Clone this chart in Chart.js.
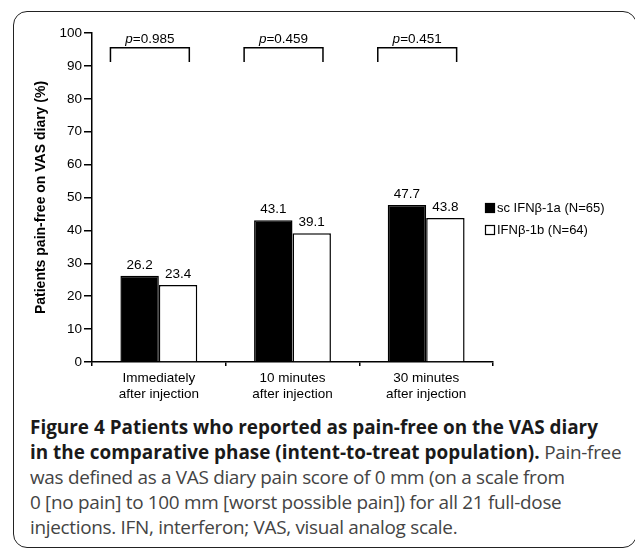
<!DOCTYPE html>
<html>
<head>
<meta charset="utf-8">
<script src="https://cdn.jsdelivr.net/npm/chart.js@4/dist/chart.umd.min.js"></script>
<style>
  body { margin: 0; background: #fff; width: 635px; height: 551px; overflow: hidden; position: relative; }
  #frame { position: absolute; left: 13px; top: 11px; width: 622px; height: 535px; border: 1.5px solid #222; border-radius: 14px; }
  #chart { position: absolute; left: 0; top: 0; }
  #caption { position: absolute; left: 30px; top: 415px; font-family: "Open Sans", "Liberation Sans", sans-serif; font-size: 18px; line-height: 25px; color: #444; letter-spacing: -0.3px; white-space: nowrap; }
  #caption b { color: #1a1a1a; letter-spacing: 0; }
  #caption span { display: inline-block; }
</style>
</head>
<body>
<div id="frame"></div>
<canvas id="chart" width="635" height="405"></canvas>
<div id="caption"><span id="cap1"><b>Figure 4 Patients who reported as pain-free on the VAS diary</b></span><br><b>in the comparative phase (intent-to-treat population).</b> Pain-free<br>was defined as a VAS diary pain score of 0 mm (on a scale from<br>0 [no pain] to 100 mm [worst possible pain]) for all 21 full-dose<br>injections. IFN, interferon; VAS, visual analog scale.</div>
<script>
const categories = [['Immediately', 'after injection'], ['10 minutes', 'after injection'], ['30 minutes', 'after injection']];
const ifn1a = [26.2, 43.1, 47.7];
const ifn1b = [23.4, 39.1, 43.8];
const pValues = ['0.985', '0.459', '0.451'];
const seriesNames = ['sc IFNβ-1a (N=65)', 'IFNβ-1b (N=64)'];
const yTicks = [0, 10, 20, 30, 40, 50, 60, 70, 80, 90, 100];

const FONT = '"Liberation Sans", Arial, sans-serif';

// caption: size the font so the first line runs to the same width as the figure
const cap = document.getElementById('caption');
const w = document.getElementById('cap1').getBoundingClientRect().width;
cap.style.fontSize = (18 * 568 / w).toFixed(2) + 'px';

// value labels, p-value brackets and the legend on the right
const extras = {
    id: 'extras',
    afterDatasetsDraw(chart) {
        const ctx = chart.ctx;
        const x = chart.scales.x, y = chart.scales.y;
        ctx.save();
        ctx.fillStyle = '#000';
        ctx.font = '13.5px ' + FONT;
        ctx.textAlign = 'center';
        ctx.textBaseline = 'bottom';
        chart.data.datasets.forEach((ds, di) => {
            chart.getDatasetMeta(di).data.forEach((bar, i) => {
                ctx.fillText(ds.data[i].toFixed(1), bar.x, bar.y - 4);
            });
        });

        const catW = x.getPixelForValue(1) - x.getPixelForValue(0);
        const top = y.getPixelForValue(95.5), leg = y.getPixelForValue(91.2);
        ctx.strokeStyle = '#000';
        ctx.lineWidth = 1.5;
        pValues.forEach((p, i) => {
            const c = x.getPixelForValue(i);
            const l = c - catW * 0.362, r = c + catW * 0.228;
            ctx.beginPath();
            ctx.moveTo(l, leg); ctx.lineTo(l, top); ctx.lineTo(r, top); ctx.lineTo(r, leg);
            ctx.stroke();
            ctx.font = 'italic 13.5px ' + FONT;
            const w1 = ctx.measureText('p').width;
            ctx.font = '13.5px ' + FONT;
            const txt = '=' + p;
            const w2 = ctx.measureText(txt).width;
            const sx = (l + r) / 2 - (w1 + w2) / 2;
            ctx.textAlign = 'left';
            ctx.textBaseline = 'alphabetic';
            ctx.font = 'italic 13.5px ' + FONT;
            ctx.fillText('p', sx, top - 5);
            ctx.font = '13.5px ' + FONT;
            ctx.fillText(txt, sx + w1, top - 5);
        });

        // legend
        const lx = chart.chartArea.right - 8;
        ctx.font = '13px ' + FONT;
        ctx.textBaseline = 'middle';
        chart.data.datasets.forEach((ds, di) => {
            const cy = 208 + di * 22;
            ctx.fillStyle = ds.backgroundColor;
            ctx.fillRect(lx, cy - 5, 10, 10);
            ctx.lineWidth = 1.2;
            ctx.strokeStyle = '#000';
            ctx.strokeRect(lx + 0.5, cy - 4.5, 9, 9);
            ctx.fillStyle = '#000';
            ctx.fillText(ds.label, lx + 12, cy);
        });
        ctx.restore();
    }
};

new Chart(document.getElementById('chart'), {
    type: 'bar',
    data: {
        labels: categories,
        datasets: [
            { label: seriesNames[0], data: ifn1a, backgroundColor: '#000', borderColor: '#000', borderWidth: 1.5 },
            { label: seriesNames[1], data: ifn1b, backgroundColor: '#fff', borderColor: '#000', borderWidth: 1.5 }
        ]
    },
    options: {
        responsive: false,
        animation: false,
        events: [],
        layout: { padding: { left: 29, right: 142, top: 33, bottom: 0 } },
        datasets: { bar: { categoryPercentage: 0.575, barPercentage: 1.0 } },
        plugins: { legend: { display: false }, tooltip: { enabled: false } },
        scales: {
            x: {
                offset: true,
                grid: { drawOnChartArea: false, drawTicks: true, tickLength: 4, color: '#000', lineWidth: 1.5 },
                border: { color: '#000', width: 1.5 },
                ticks: { color: '#000', font: { family: FONT, size: 13.5 }, padding: 4, maxRotation: 0 },
                afterFit(scale) { scale.height = 43; }
            },
            y: {
                min: 0, max: 100,
                afterBuildTicks(scale) { scale.ticks = yTicks.map(v => ({ value: v })); },
                grid: { drawOnChartArea: false, drawTicks: true, tickLength: 8, color: '#000', lineWidth: 1.5 },
                border: { color: '#000', width: 1.5 },
                ticks: { color: '#000', font: { family: FONT, size: 13.5 }, padding: 2 },
                title: { display: true, text: 'Patients pain-free on VAS diary (%)', color: '#000', font: { family: FONT, size: 14, weight: 'bold' }, padding: { top: 4, bottom: 4 } },
                afterFit(scale) { scale.width = 63; }
            }
        }
    },
    plugins: [extras]
});
</script>
</body>
</html>
